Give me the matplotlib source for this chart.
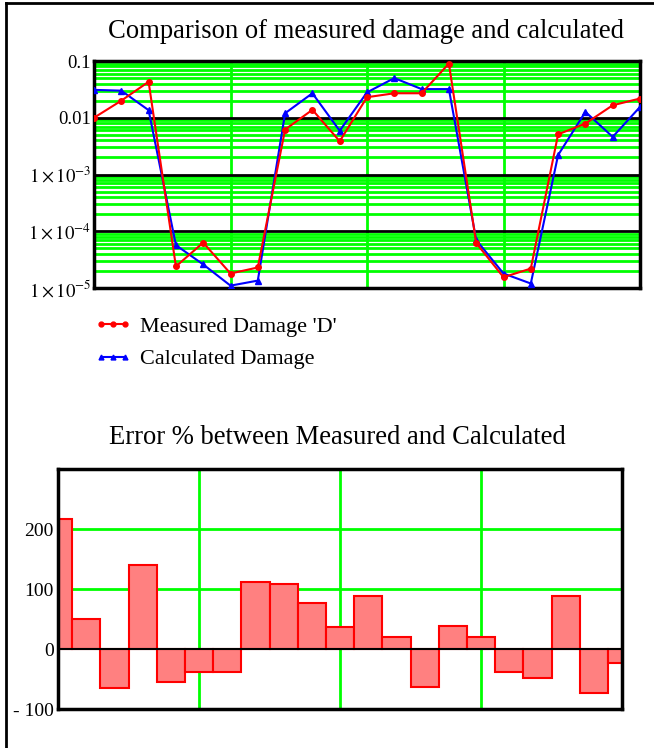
import numpy as np
import matplotlib
matplotlib.use("Agg")
import matplotlib.pyplot as plt
from matplotlib.lines import Line2D

plt.rcParams['font.family'] = ['Liberation Serif', 'DejaVu Serif']
plt.rcParams['mathtext.fontset'] = 'stix'

# sample index 0..20
idx = list(range(21))

measured = [0.010, 0.020, 0.043, 2.4e-5, 6.3e-5, 1.8e-5, 2.3e-5, 0.0062, 0.0138, 0.00385,
            0.023, 0.027, 0.027, 0.090, 6.2e-5, 1.55e-5, 2.2e-5, 0.0051, 0.0079, 0.0166,
            0.0218]
calculated = [0.031, 0.030, 0.0136, 5.7e-5, 2.6e-5, 1.1e-5, 1.35e-5, 0.012, 0.027, 0.0059,
              0.028, 0.050, 0.032, 0.032, 7.0e-5, 1.8e-5, 1.2e-5, 0.0022, 0.0127, 0.0046,
              0.0155]
error_pct = [217, 50, -65, 140, -55, -39, -39, 112, 108, 77,
             36, 89, 20, -63, 39, 20, -39, -49, 89, -73,
             -23]

log_ticks = [1e-5, 1e-4, 1e-3, 1e-2, 1e-1]
log_labels = [r'$1\times10^{-5}$', r'$1\times10^{-4}$', r'$1\times10^{-3}$', '0.01', '0.1']
err_ticks = [-100, 0, 100, 200]
err_labels = ['- 100', '0', '100', '200']

GREEN = '#00ff00'
W, H = 654, 748

fig = plt.figure(figsize=(W / 100, H / 100), dpi=100)

# outer frame lines (left and top)
fig.add_artist(Line2D([6 / W, 6 / W], [0, 1 - 3 / H], color='black', lw=2))
fig.add_artist(Line2D([6 / W, 1], [1 - 3 / H, 1 - 3 / H], color='black', lw=2))

# ---- top chart ----
ax1 = fig.add_axes([94 / W, 1 - 288 / H, 546 / W, 227 / H])
ax1.set_yscale('log')
ax1.set_xlim(0, 20)
ax1.set_ylim(1e-5, 0.1)

for dec in [1e-5, 1e-4, 1e-3, 1e-2]:
    for m in range(2, 10):
        ax1.axhline(dec * m, color=GREEN, lw=2, zorder=1)
for dec in [1e-4, 1e-3, 1e-2]:
    ax1.axhline(dec, color='black', lw=2, zorder=2)
for xv in [5, 10, 15]:
    ax1.axvline(xv, color=GREEN, lw=2, zorder=1)

ax1.plot(idx, measured, color='red', lw=1.5, marker='o', ms=4, zorder=4,
         label="Measured Damage 'D'")
ax1.plot(idx, calculated, color='blue', lw=1.5, marker='^', ms=5, zorder=3,
         label='Calculated Damage')

ax1.set_yticks(log_ticks)
ax1.set_yticklabels(log_labels)
ax1.minorticks_off()
ax1.set_xticks([])
ax1.tick_params(axis='y', length=0, pad=2, labelsize=13.5)
for sp in ax1.spines.values():
    sp.set_linewidth(2.5)

fig.text(366 / W, 1 - 31 / H, 'Comparison of measured damage and calculated',
         ha='center', va='center', fontsize=19.2)

leg = ax1.legend(loc='upper left', bbox_to_anchor=(94 / W, 1 - 316 / H),
                 bbox_transform=fig.transFigure, frameon=False, fontsize=16,
                 handlelength=1.7, handletextpad=0.37, labelspacing=0.55,
                 numpoints=3, borderaxespad=0, borderpad=0)
for h in leg.legend_handles:
    h.set_markersize(3.5)

# ---- bottom chart ----
ax2 = fig.add_axes([58 / W, 1 - 709 / H, 564 / W, 240 / H])
ax2.set_xlim(0, 20)
ax2.set_ylim(-100, 300)
for yv in [100, 200]:
    ax2.axhline(yv, color=GREEN, lw=2, zorder=1)
for xv in [5, 10, 15]:
    ax2.axvline(xv, color=GREEN, lw=2, zorder=1)

ax2.bar(idx, error_pct, width=1.0, color='#ff8080', edgecolor='red', linewidth=1.5,
        zorder=2)
ax2.axhline(0, color='black', lw=1.5, zorder=3)

ax2.set_yticks(err_ticks)
ax2.set_yticklabels(err_labels)
ax2.set_xticks([])
ax2.tick_params(axis='y', length=0, pad=3, labelsize=14)
for sp in ax2.spines.values():
    sp.set_linewidth(2.5)

fig.text(337 / W, 1 - 438 / H, 'Error % between Measured and Calculated',
         ha='center', va='center', fontsize=19.2)

fig.savefig('out.png', dpi=100)
